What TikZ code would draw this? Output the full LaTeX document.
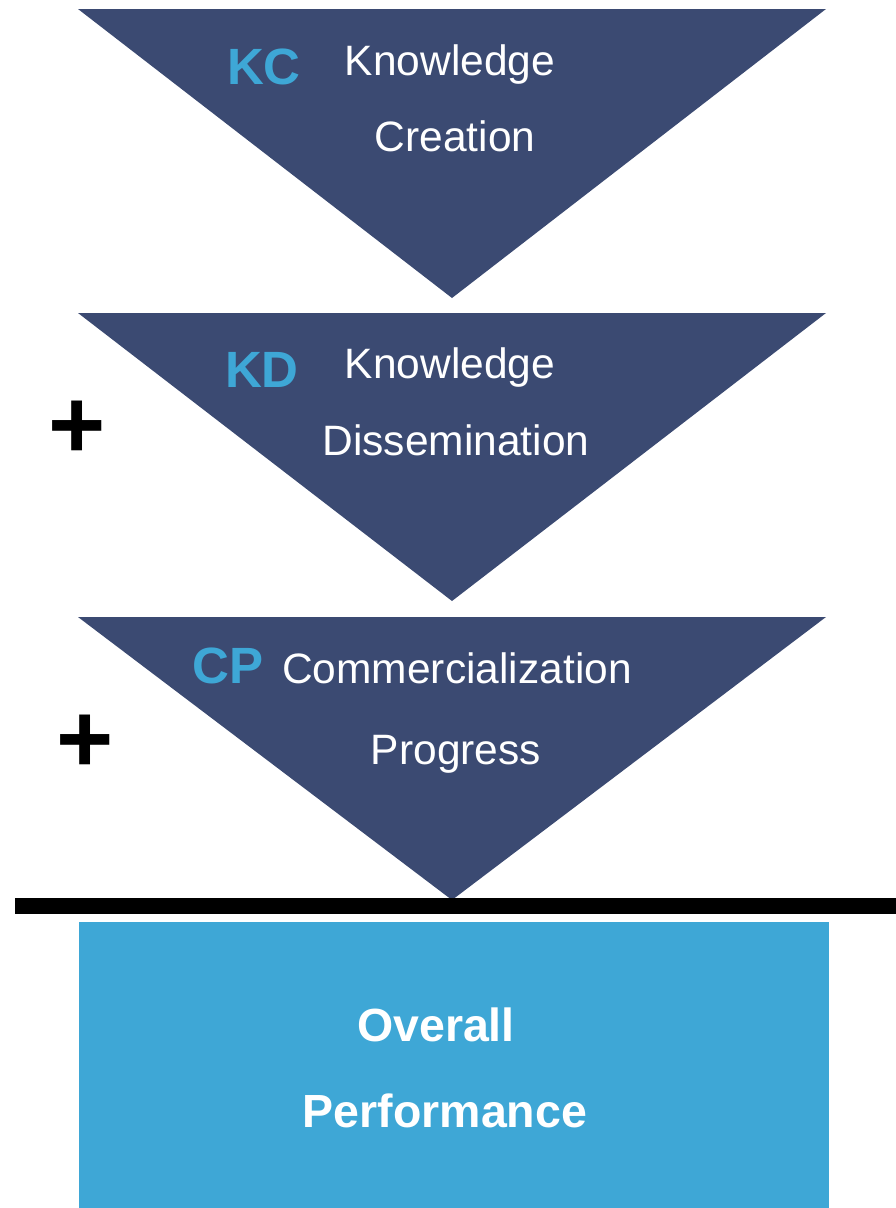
\documentclass[tikz,border=0pt]{standalone}
\usepackage{fontspec}
\setmainfont{Liberation Sans}
\definecolor{funnelblue}{HTML}{3B4A72}
\definecolor{skyblue}{HTML}{3EA7D6}
\tikzstyle{abbr}=[skyblue, anchor=base, inner sep=0, font=\fontsize{51}{51}\selectfont\bfseries]
\tikzstyle{stage}=[white, anchor=base, inner sep=0, font=\fontsize{42.5}{42.5}\selectfont]
\tikzstyle{result}=[white, anchor=base, inner sep=0, font=\fontsize{46.5}{46.5}\selectfont\bfseries]
\tikzstyle{plus}=[black, anchor=base, inner sep=0, font=\fontsize{98}{98}\selectfont\bfseries]

\begin{document}
\begin{tikzpicture}[x=1pt, y=-1pt]
\useasboundingbox (0,0) rectangle (896,1208);
% Funnel
    \fill[funnelblue] (78,9) -- (826,9) -- (452,298) -- cycle;
    \fill[funnelblue] (78,313) -- (826,313) -- (452,601) -- cycle;
    \fill[funnelblue] (78,617) -- (826,617) -- (452,900) -- cycle;
% Sum line and result box
    \fill[black] (15,898) rectangle (896,914);
    \fill[skyblue] (79,922) rectangle (829,1208);
% Stage labels
    \node[abbr] (kc) at (264,84) {KC};
    \node[stage] (kc1) at (450,75) {Knowledge};
    \node[stage] (kc2) at (455,151) {Creation};
    \node[abbr] (kd) at (262,387) {KD};
    \node[stage] (kd1) at (450,378) {Knowledge};
    \node[stage] (kd2) at (456,455) {Dissemination};
    \node[abbr] (cp) at (228,683) {CP};
    \node[stage] (cp1) at (457,683) {Commercialization};
    \node[stage] (cp2) at (456,764) {Progress};
    \node[result] (op1) at (436,1041) {Overall};
    \node[result] (op2) at (445,1127) {Performance};
% Plus signs
    \node[plus] (p1) at (77,458) {+};
    \node[plus] (p2) at (85,772) {+};
\end{tikzpicture}
\end{document}
